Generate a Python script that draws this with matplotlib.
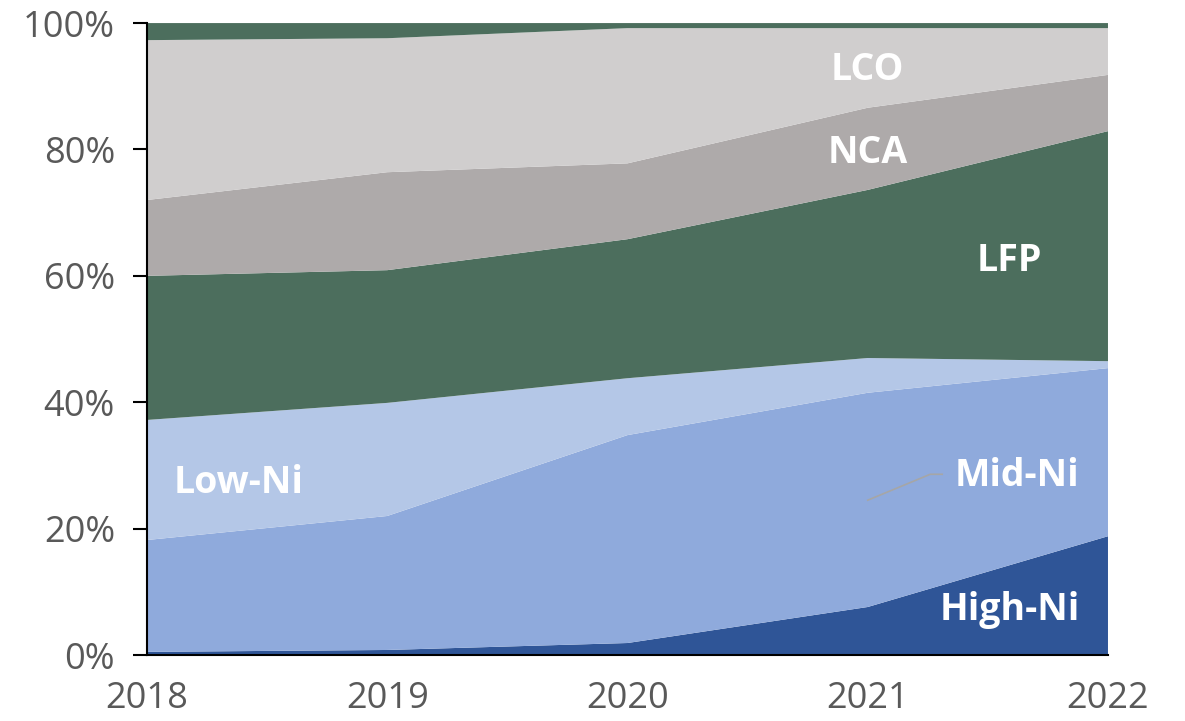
import matplotlib.pyplot as plt
import numpy as np

# share of cathode chemistry, %
years = [2018, 2019, 2020, 2021, 2022]
high_ni = [0.5, 0.8, 1.9, 7.6, 18.8]
mid_ni = [17.7, 21.2, 32.9, 33.9, 26.6]
low_ni = [19.0, 17.9, 9.0, 5.5, 1.1]
lfp = [22.8, 21.0, 22.0, 26.6, 36.4]
nca = [12.0, 15.5, 12.0, 13.0, 8.9]
lco = [25.3, 21.2, 21.4, 12.6, 7.4]
other = [2.7, 2.4, 0.8, 0.8, 0.8]

series = [high_ni, mid_ni, low_ni, lfp, nca, lco, other]
colors = ['#2F5597', '#8FAADC', '#B4C7E7', '#4C6E5D', '#AEAAAA', '#D0CECE', '#4C6E5D']

plt.rcParams['font.family'] = ['Open Sans', 'DejaVu Sans']

fig = plt.figure(figsize=(11.85, 7.21), dpi=100)
ax = fig.add_axes([0.124, 0.0915, 0.811, 0.8765])

ax.stackplot(years, *series, colors=colors, linewidth=0)

ax.set_xlim(2018, 2022)
ax.set_ylim(0, 100)
ax.set_xticks(years)
ax.set_yticks(np.arange(0, 101, 20))
ax.set_yticklabels([f'{v}%' for v in range(0, 101, 20)])

for s in ['top', 'right']:
    ax.spines[s].set_visible(False)
ax.spines['left'].set_linewidth(1.5)
ax.spines['bottom'].set_linewidth(1.5)
ax.tick_params(axis='y', length=10, width=1.5, labelsize=26, labelcolor='#595959', pad=13)
ax.tick_params(axis='x', length=0, labelsize=26, labelcolor='#595959', pad=19)

lbl = dict(color='white', fontsize=27, fontweight='bold', ha='center', va='center')
ax.text(2021.0, 92.5, 'LCO', **lbl)
ax.text(2021.0, 79.5, 'NCA', **lbl)
ax.text(2021.59, 62.3, 'LFP', **lbl)
ax.text(2018.38, 27.3, 'Low-Ni', **lbl)
ax.text(2021.62, 28.3, 'Mid-Ni', **lbl)
ax.text(2021.59, 7.2, 'High-Ni', **lbl)

# leader line for Mid-Ni
ax.plot([2021.0, 2021.26, 2021.31], [24.5, 28.6, 28.6], color='#A6A6A6', lw=1.2)

plt.savefig('out.png', dpi=100)
plt.close()
